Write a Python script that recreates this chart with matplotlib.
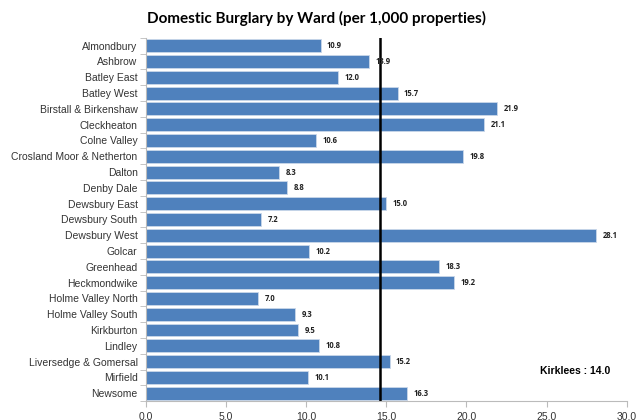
import matplotlib.pyplot as plt
import numpy as np

wards = ["Almondbury", "Ashbrow", "Batley East", "Batley West", "Birstall & Birkenshaw",
         "Cleckheaton", "Colne Valley", "Crosland Moor & Netherton", "Dalton", "Denby Dale",
         "Dewsbury East", "Dewsbury South", "Dewsbury West", "Golcar", "Greenhead",
         "Heckmondwike", "Holme Valley North", "Holme Valley South", "Kirkburton", "Lindley",
         "Liversedge & Gomersal", "Mirfield", "Newsome"]
rates = [10.9, 13.9, 12.0, 15.7, 21.9, 21.1, 10.6, 19.8, 8.3, 8.8,
         15.0, 7.2, 28.1, 10.2, 18.3, 19.2, 7.0, 9.3, 9.5, 10.8,
         15.2, 10.1, 16.3]
kirklees_label = "Kirklees : 14.0"
kirklees_line = 14.6  # where the line sits on the chart
xticks = [0, 5, 10, 15, 20, 25, 30]

fig = plt.figure(figsize=(6.37, 4.2), dpi=100)
ax = fig.add_axes([0.229, 0.045, 0.755, 0.865])

y = np.arange(len(wards))
ax.barh(y, rates, height=0.82, color="#4F81BD", edgecolor="#C9D7EA", linewidth=0.6, zorder=2)
for yi, v in zip(y, rates):
    ax.text(v + 0.4, yi, "%.1f" % v, va="center", ha="left", fontsize=5.5,
            fontweight="bold", family="Open Sans", color="#222222", zorder=4)

ax.axvline(kirklees_line, color="black", linewidth=1.8, zorder=3)
ax.text(24.6, 20.6, kirklees_label, fontsize=7.5, fontweight="bold",
        family="Liberation Sans", va="center", ha="left")

ax.set_ylim(len(wards) - 0.5, -0.5)
ax.set_xlim(0, 30)
ax.set_yticks(y)
ax.set_yticklabels(wards, family="Liberation Sans", fontsize=7.5, color="#333333")
ax.set_yticks(np.arange(-0.5, len(wards)), minor=True)
ax.tick_params(axis="y", which="major", length=0, pad=6)
ax.tick_params(axis="y", which="minor", length=4, color="#BBBBBB")
ax.set_xticks(xticks)
ax.set_xticklabels(["%.1f" % t for t in xticks], family="Liberation Sans", fontsize=7.5,
                   color="#333333")
ax.tick_params(axis="x", length=4, color="#BBBBBB")

for s in ["top", "right"]:
    ax.spines[s].set_visible(False)
ax.spines["left"].set_color("#BBBBBB")
ax.spines["bottom"].set_color("#BBBBBB")

fig.text(0.497, 0.955, "Domestic Burglary by Ward (per 1,000 properties)", ha="center",
         va="center", fontsize=11, fontweight="bold", family="Lato")

fig.savefig("out.png", dpi=100)
